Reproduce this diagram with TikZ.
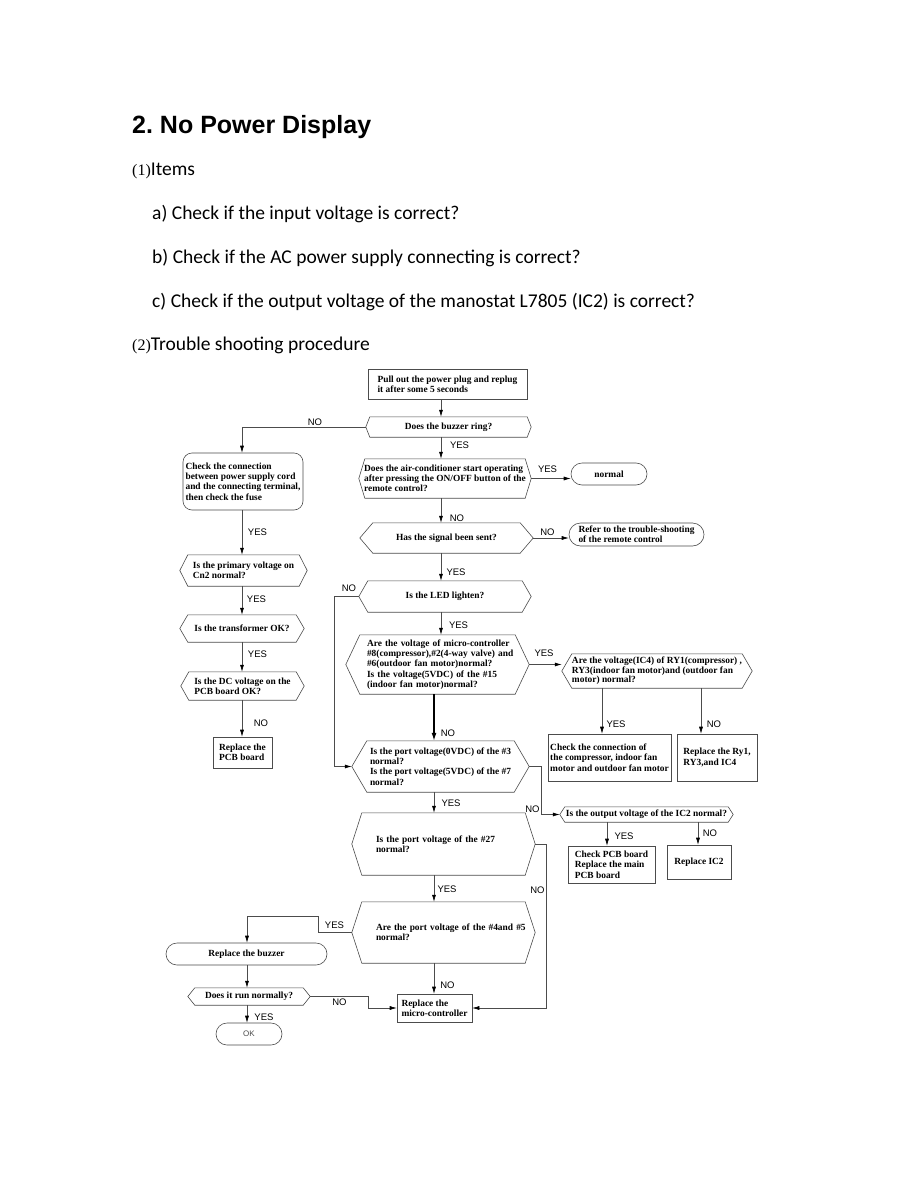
\documentclass[tikz,border=0pt]{standalone}
\usepackage{fontspec}
\setmainfont{Liberation Serif}
\newfontfamily\flowfont{Liberation Serif}
\newfontfamily\labfont{Liberation Sans}
\newfontfamily\itemfont{Carlito}
\newfontfamily\headfont{Liberation Sans}
\usetikzlibrary{arrows.meta,shapes.misc,calc}
\definecolor{linec}{gray}{0.3}
\newcommand{\numfont}{\flowfont\fontsize{16}{20}\selectfont}
\begin{document}
\begin{tikzpicture}[x=1pt,y=-1pt,
  txt/.style={inner sep=0pt, font=\flowfont\bfseries\fontsize{9.4}{10.3}\selectfont, align=left},
  rbox/.style={txt, draw=linec, line width=0.6pt},
  hexn/.style={txt},
  stad/.style={txt, draw=linec, line width=0.6pt, rounded rectangle},
  outl/.style={draw=linec, line width=0.6pt},
  arr/.style={draw=linec, line width=0.6pt, -{Latex[length=7pt,width=4pt,color=black]}},
  thickarr/.style={draw=black, line width=1.3pt, -{Latex[length=8pt,width=5pt]}},
  lbl/.style={inner sep=0pt, font=\labfont\fontsize{9.5}{10}\selectfont},
  head/.style={anchor=base west, inner sep=0pt},
]
\fill[white] (0,0) rectangle (918,1188);
\useasboundingbox (0,0) rectangle (918,1188);

% ---------- heading and items ----------
\node[head, font=\headfont\bfseries\fontsize{25}{30}\selectfont] (title) at (132,133) {2.\ No Power Display};
\node[head, font=\itemfont\fontsize{19.5}{24}\selectfont] (items) at (132,175) {{\numfont(1)}Items};
\node[head, font=\itemfont\fontsize{19.5}{24}\selectfont] (ia) at (152,219) {a) Check if the input voltage is correct?};
\node[head, font=\itemfont\fontsize{19.5}{24}\selectfont] (ib) at (152,263) {b) Check if the AC power supply connecting is correct?};
\node[head, font=\itemfont\fontsize{19.5}{24}\selectfont] (ic) at (152,307) {c) Check if the output voltage of the manostat L7805 (IC2) is correct?};
\node[head, font=\itemfont\fontsize{19.5}{24}\selectfont] (proc) at (132,350) {{\numfont(2)}Trouble shooting procedure};

% ---------- columns ----------
\coordinate (colM) at (441,0);
\coordinate (colN) at (434,0);
\coordinate (colL) at (242,0);
\coordinate (colB) at (247,0);
\coordinate (colRy) at (602,0);
\coordinate (colRn) at (701,0);
\coordinate (colIy) at (607,0);
\coordinate (colIn) at (698,0);

% ---------- nodes ----------
\node[rbox, minimum width=159, minimum height=30] (start) at (447.5,384) {Pull out the power plug and replug\\it after some 5 seconds};
\node[hexn, minimum width=165, minimum height=20] (buzz) at (448.5,427) {Does the buzzer ring?};
\node[hexn, minimum width=172, minimum height=39] (airc) at (445,478.5) {Does the air-conditioner start operating\\after pressing the ON/OFF button of the\\remote control?};
\node[stad, minimum width=76, minimum height=22] (normal) at (609,474) {normal};
\node[hexn, minimum width=173, minimum height=30] (signal) at (446.5,538) {Has the signal been sent?};
\node[stad, minimum width=135, minimum height=23] (refer) at (636.5,534.5) {Refer to the trouble-shooting\\of the remote control};
\node[hexn, minimum width=172, minimum height=31] (led) at (445,596.5) {Is the LED lighten?};
\node[hexn, minimum width=183, minimum height=59, text width=141] (micro) at (437.5,664.5) {\mbox{Are the voltage of micro-controller}\\\mbox{\#8(compressor),\#2(4-way valve) and}\\\mbox{\#6(outdoor fan motor)normal?}\\\mbox{Is the voltage(5VDC) of the \#15}\\\mbox{(indoor fan motor)normal?}};
\node[hexn, minimum width=190, minimum height=34, font=\flowfont\bfseries\fontsize{9.4}{9.6}\selectfont] (ry) at (657,671) {Are the voltage(IC4) of RY1(compressor) ,\\RY3(indoor fan motor)and (outdoor fan\\motor) normal?};
\node[rbox, minimum width=123, minimum height=47] (chkconn) at (609.5,757.5) {Check the connection of\\the compressor, indoor fan\\motor and outdoor fan motor};
\node[rbox, minimum width=80, minimum height=47] (rry) at (717,757.5) {Replace the Ry1,\\RY3,and IC4};
\node[hexn, minimum width=177, minimum height=51] (port3) at (440.5,766.5) {Is the port voltage(0VDC) of the \#3\\normal?\\Is the port voltage(5VDC) of the \#7\\normal?};
\node[hexn, minimum width=173, minimum height=15] (ic2) at (646.5,814.5) {Is the output voltage of the IC2 normal?};
\node[rbox, minimum width=87, minimum height=37] (chkpcb) at (611.5,864.5) {Check PCB board\\Replace the main\\PCB board};
\node[rbox, minimum width=64, minimum height=34] (ric2) at (699,862) {Replace IC2};
\node[hexn, minimum width=183, minimum height=62, text width=135] (p27) at (443.5,844) {\mbox{Is the port voltage of the \#27}\\normal?};
\node[hexn, minimum width=183, minimum height=61, text width=135] (p45) at (443.5,932.5) {\mbox{Are the port voltage of the \#4and \#5}\\normal?};
\node[rbox, minimum width=75, minimum height=28] (rmicro) at (434.5,1008) {Replace the\\micro-controller};
\node[stad, minimum width=161, minimum height=22] (buzzer) at (246.5,954) {Replace the buzzer};
\node[hexn, minimum width=122, minimum height=17] (run) at (249,996.5) {Does it run normally?};
\node[stad, minimum width=66, minimum height=22, font=\labfont\fontsize{8}{9}\selectfont, text=black!70] (ok) at (249,1034) {OK};
\node[rbox, rounded corners=9pt, minimum width=120, minimum height=57] (check) at (243,481.5) {Check the connection\\between power supply cord\\and the connecting terminal,\\then check the fuse};
\node[hexn, minimum width=127, minimum height=31] (prim) at (243.5,570.5) {Is the primary voltage on\\Cn2 normal?};
\node[hexn, minimum width=124, minimum height=27] (trans) at (242,628.5) {Is the transformer OK?};
\node[hexn, minimum width=123, minimum height=28] (dc) at (242.5,686) {Is the DC voltage on the\\PCB board OK?};
\node[rbox, minimum width=59, minimum height=31] (rpcb) at (242.5,752.5) {Replace the\\PCB board};

% ---------- hexagon outlines ----------
\foreach \n/\d in {buzz/4,airc/6,signal/13,led/9,micro/14,ry/10,port3/15,p27/10,p45/10,ic2/5,prim/8,trans/8,dc/8,run/7}
  \draw[outl] (\n.west) -- ([xshift=\d pt]\n.north west) -- ([xshift=-\d pt]\n.north east) -- (\n.east) -- ([xshift=-\d pt]\n.south east) -- ([xshift=\d pt]\n.south west) -- cycle;

% ---------- connectors ----------
\draw[arr] (start.south -| colM) -- (buzz.north -| colM);
\draw[arr] (buzz.west) -| (check.north -| colL);
\draw[arr] (buzz.south -| colM) -- (airc.north -| colM);
\draw[arr] (airc.east) -- (airc.east -| normal.west);
\draw[arr] (airc.south -| colM) -- (signal.north -| colM);
\draw[arr] (signal.east) -- (signal.east -| refer.west);
\draw[arr] (signal.south -| colM) -- (led.north -| colM);
\draw[arr] (led.west) -- ++(-25,0) |- (port3.west);
\draw[arr] (led.south -| colM) -- (micro.north -| colM);
\draw[arr] (micro.east) -- (micro.east -| ry.west);
\draw[thickarr] (micro.south -| colN) -- (port3.north -| colN);
\draw[arr] (ry.south -| colRy) -- (chkconn.north -| colRy);
\draw[arr] (ry.south -| colRn) -- (rry.north -| colRn);
\draw[arr] (port3.east) -- ++(12,0) |- (ic2.west);
\draw[arr] (ic2.south -| colIy) -- (chkpcb.north -| colIy);
\draw[arr] (ic2.south -| colIn) -- (ric2.north -| colIn);
\draw[arr] (port3.south -| colN) -- (p27.north -| colN);
\draw[arr] (p27.east) -- ++(11,0) |- (rmicro.east);
\draw[arr] (p27.south -| colN) -- (p45.north -| colN);
\draw[arr] (p45.west) -- ++(-34,0) -- ++(0,-16) -| (buzzer.north -| colB);
\draw[arr] (p45.south -| colN) -- (rmicro.north -| colN);
\draw[arr] (buzzer.south -| colB) -- (run.north -| colB);
\draw[arr] (run.east) -- ++(58,0) |- (rmicro.west);
\draw[arr] (run.south -| colB) -- (ok.north -| colB);
\draw[arr] (check.south -| colL) -- (prim.north -| colL);
\draw[arr] (prim.south -| colL) -- (trans.north -| colL);
\draw[arr] (trans.south -| colL) -- (dc.north -| colL);
\draw[arr] (dc.south -| colL) -- (rpcb.north -| colL);

% ---------- branch labels ----------
\node[lbl] (n1) at (315,422) {NO};
\node[lbl] (y1) at (459.5,445.5) {YES};
\node[lbl] (y2) at (547.5,469.5) {YES};
\node[lbl] (n2) at (457,518.5) {NO};
\node[lbl] (n3) at (547.5,532) {NO};
\node[lbl] (y3) at (456,572) {YES};
\node[lbl] (n4) at (349,588) {NO};
\node[lbl] (y4) at (458.5,625) {YES};
\node[lbl] (y5) at (544,653.5) {YES};
\node[lbl] (n5) at (448,733.5) {NO};
\node[lbl] (y6) at (616,724.5) {YES};
\node[lbl] (n6) at (714,724.5) {NO};
\node[lbl] (y7) at (451,803.5) {YES};
\node[lbl] (n7) at (532.5,809.5) {NO};
\node[lbl] (y8) at (624,836) {YES};
\node[lbl] (n8) at (710,833.5) {NO};
\node[lbl] (y9) at (447,889) {YES};
\node[lbl] (n9) at (537.5,890.5) {NO};
\node[lbl] (y10) at (334.5,925.5) {YES};
\node[lbl] (n10) at (447.5,985.5) {NO};
\node[lbl] (n11) at (339.5,1002.5) {NO};
\node[lbl] (y11) at (264,1017) {YES};
\node[lbl] (n12) at (261,723) {NO};
\node[lbl] (y12) at (257.5,532.5) {YES};
\node[lbl] (y13) at (256.5,599) {YES};
\node[lbl] (y14) at (257.5,654.5) {YES};
\end{tikzpicture}
\end{document}
